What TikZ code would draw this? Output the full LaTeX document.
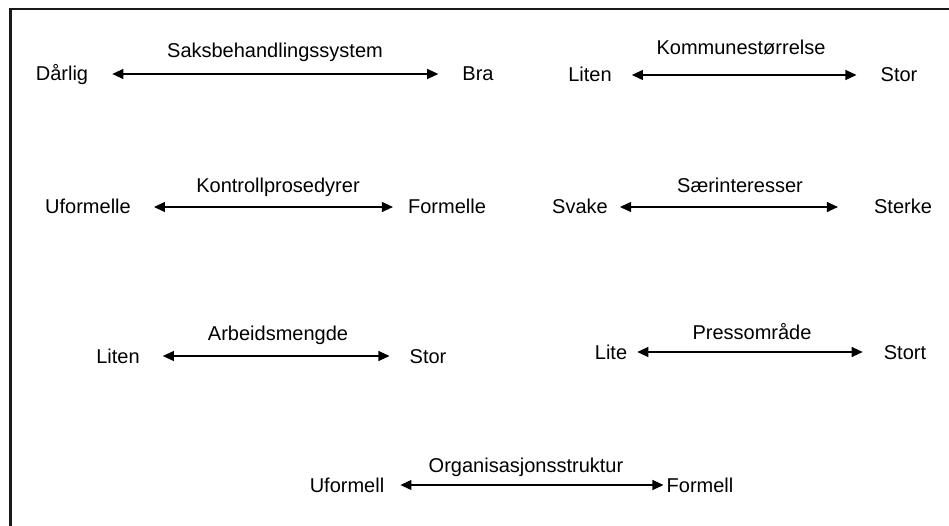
\documentclass[tikz,border=0pt]{standalone}
\usepackage{fontspec}
\setmainfont{Liberation Sans}
\usetikzlibrary{arrows.meta}

\begin{document}
\begin{tikzpicture}[x=1pt,y=-1pt]
	\tikzstyle{common} = [inner sep=0, font=\fontsize{20}{24}\selectfont]
	\tikzstyle{pole} = [common, text height=14pt, text depth=0pt]
	\tikzstyle{title} = [common, anchor=base]
	\tikzstyle{line} = [draw, line width=1.1pt, {Triangle[length=11pt,width=10pt]}-{Triangle[length=11pt,width=10pt]}]
	\tikzstyle{frame} = [draw=black!90, line width=2.2pt]
	\clip (0,0) rectangle (949,526);
	\draw[frame] (10.5,8.7) rectangle (970,545);

	% saksbehandling / kommune
	\node[pole] (darlig) at (62,74) {Dårlig};
	\node[pole] (bra) at (478,74) {Bra};
	\node[title] (saks) at (275,58) {Saksbehandlingssystem};
	\node[pole] (liten1) at (590,75) {Liten};
	\node[pole] (stor1) at (899,75) {Stor};
	\node[title] (kommune) at (741,55) {Kommunestørrelse};

	% kontroll / saerinteresser
	\node[pole] (uformelle) at (88,207) {Uformelle};
	\node[pole] (formelle) at (447,207) {Formelle};
	\node[title] (kontroll) at (278,193) {Kontrollprosedyrer};
	\node[pole] (svake) at (580,207) {Svake};
	\node[pole] (sterke) at (903,207) {Sterke};
	\node[title] (saer) at (740,193) {Særinteresser};

	% arbeid / presse
	\node[pole] (liten2) at (118,356) {Liten};
	\node[pole] (stor2) at (428,356) {Stor};
	\node[title] (arbeid) at (278,340) {Arbeidsmengde};
	\node[pole] (lite) at (611,352) {Lite};
	\node[pole] (stort) at (905,352) {Stort};
	\node[title] (presse) at (752,339) {Pressområde};

	% organisasjon
	\node[pole] (uformell) at (347,485) {Uformell};
	\node[pole] (formell) at (700,485) {Formell};
	\node[title] (org) at (526,472) {Organisasjonsstruktur};

	\draw[line, shorten <=24pt, shorten >=24pt] (darlig) -- (bra);
	\draw[line, shorten <=20pt, shorten >=24pt] (liten1) -- (stor1);
	\draw[line, shorten <=23pt, shorten >=15pt] (uformelle) -- (formelle);
	\draw[line, shorten <=12pt, shorten >=36pt] (svake) -- (sterke);
	\draw[line, shorten <=23pt, shorten >=20pt] (liten2) -- (stor2);
	\draw[line, shorten <=10pt, shorten >=21pt] (lite) -- (stort);
	\draw[line, shorten <=16pt, shorten >=3pt] (uformell) -- (formell);
\end{tikzpicture}
\end{document}
